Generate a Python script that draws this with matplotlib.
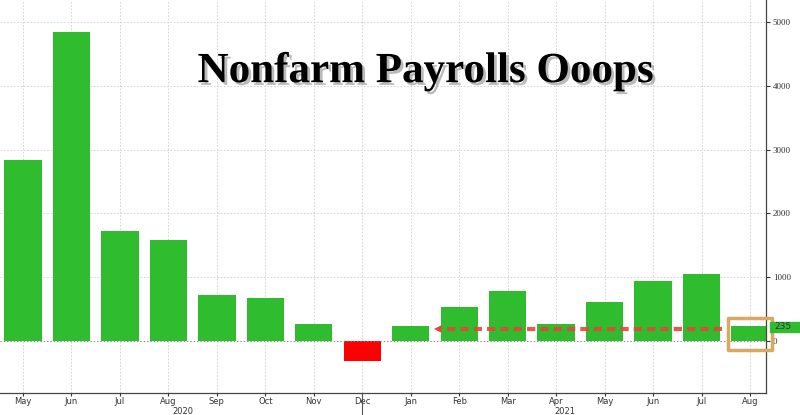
import numpy as np
import matplotlib.pyplot as plt
import matplotlib.patheffects as pe
from matplotlib.patches import Rectangle

# Data (thousands of jobs)
months = ['May', 'Jun', 'Jul', 'Aug', 'Sep', 'Oct', 'Nov', 'Dec',
          'Jan', 'Feb', 'Mar', 'Apr', 'May', 'Jun', 'Jul', 'Aug']
payrolls = [2840, 4850, 1725, 1585, 720, 675, 260, -306,
            233, 535, 785, 266, 612, 940, 1053, 235]
years = ['2020', '2021']
year_pos = [3.3, 11.18]
yticks = [0, 1000, 2000, 3000, 4000, 5000]
last_value = 235

x = np.arange(len(months))
colors = ['#ff0000' if v < 0 else '#2fbd2f' for v in payrolls]

fig = plt.figure(figsize=(8, 4.15), dpi=100)
ax = fig.add_axes([0, 22 / 415, 766 / 800, 393 / 415])

ax.bar(x, payrolls, width=0.77, color=colors, zorder=2)

ax.set_xlim(-0.475, 15.33)
ax.set_ylim(-815, 5345)

# grid
ax.grid(True, ls=(0, (2, 2)), color='#cfcfcf', lw=0.6, zorder=0)
ax.axhline(0, color='#888888', ls=(0, (1, 2)), lw=0.8, zorder=3)

ax.set_xticks(x)
ax.set_xticklabels(months)
ax.set_yticks(yticks)
ax.set_yticklabels([str(t) for t in yticks])
ax.yaxis.tick_right()
ax.tick_params(axis='x', length=2, pad=1, labelsize=6, colors='#333333')
ax.tick_params(axis='y', length=3, pad=2, labelsize=6.5, colors='#333333')
for lab in ax.get_yticklabels():
    lab.set_family('Liberation Serif')

for s in ['left', 'top']:
    ax.spines[s].set_visible(False)
for s in ['bottom', 'right']:
    ax.spines[s].set_color('#444444')
    ax.spines[s].set_linewidth(0.9)

# year labels and separator
for yr, xp in zip(years, year_pos):
    ax.text(xp, -0.048, yr, transform=ax.get_xaxis_transform(),
            ha='center', va='center', fontsize=6, color='#333333')
ax.axvline(7, ymin=-0.06, ymax=0, clip_on=False, color='#555555', lw=0.8)

# red dashed arrow
ax.plot([8.75, 14.5], [188, 188], color='#e5473b', lw=3, ls=(0, (2, 1.2)),
        alpha=0.9, zorder=4)
ax.annotate('', xy=(8.42, 188), xytext=(8.9, 188),
            arrowprops=dict(arrowstyle='-|>', color='#e5473b', lw=0,
                            mutation_scale=14), zorder=4)

# highlight box around last bar
ax.add_patch(Rectangle((14.55, -141), 0.9, 501, fill=False,
                       edgecolor='#d8a960', lw=2.5, joinstyle='round',
                       clip_on=False, zorder=5))

# last value tag
ax.add_patch(Rectangle((15.41, 141), 0.7, 157, color='#2fbd2f',
                       clip_on=False, zorder=5))
ax.text(15.5, last_value - 15, str(last_value), fontsize=6.5, color='#333333',
        va='center', ha='left', zorder=6, clip_on=False)

# title
ax.text(0.555, 0.791, 'Nonfarm Payrolls Ooops', transform=ax.transAxes,
        ha='center', va='baseline', fontsize=31, fontweight='bold',
        family='Liberation Serif', color='black', zorder=6,
        path_effects=[pe.withSimplePatchShadow(offset=(2, -2),
                                                shadow_rgbFace='#777777',
                                                alpha=0.5)])

fig.savefig('out.png', dpi=100)
